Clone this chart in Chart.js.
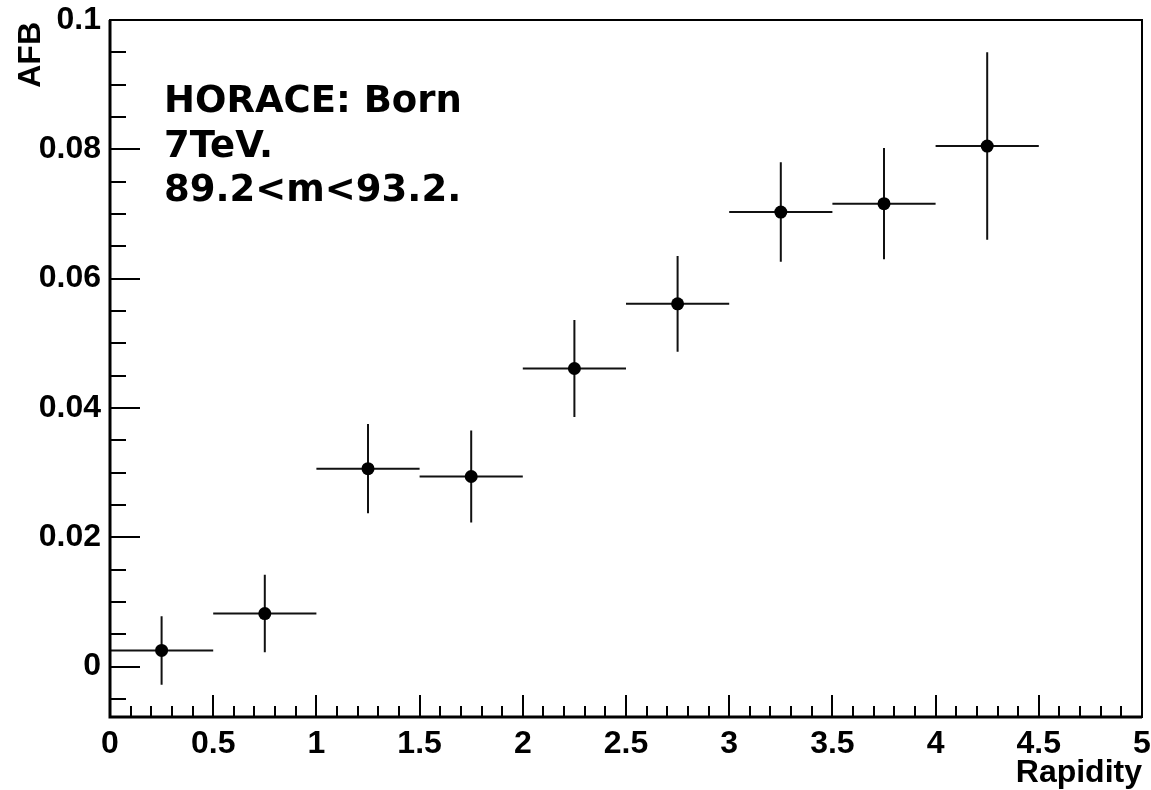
<!DOCTYPE html>
<html>
<head>
<meta charset="utf-8">
<script src="https://cdn.jsdelivr.net/npm/chart.js@4"></script>
<style>
  html, body { margin: 0; padding: 0; background: #fff; }
  #wrap { width: 1151px; height: 790px; }
</style>
</head>
<body>
<div id="wrap"><canvas id="afbChart" width="1151" height="790"></canvas></div>
<script>
// bins in rapidity, AFB value and its error
const binCenters = [0.25, 0.75, 1.25, 1.75, 2.25, 2.75, 3.25, 3.75, 4.25];
const binHalfWidth = [0.25, 0.25, 0.25, 0.25, 0.25, 0.25, 0.25, 0.25, 0.25];
const afb = [0.0025, 0.0082, 0.0306, 0.0294, 0.0461, 0.0561, 0.0703, 0.0716, 0.0805];
const afbErr = [0.0053, 0.0060, 0.0069, 0.0071, 0.0075, 0.0074, 0.0077, 0.0086, 0.0145];

const xTickLabels = [0, 0.5, 1, 1.5, 2, 2.5, 3, 3.5, 4, 4.5, 5];
const yTickLabels = [0, 0.02, 0.04, 0.06, 0.08, 0.1];
const infoLines = ['HORACE: Born', '7TeV.', '89.2<m<93.2.'];

const tickFont = { family: 'Liberation Sans', size: 32, weight: 'bold' };

// error bars drawn under the markers
const errorBars = {
  id: 'errorBars',
  beforeDatasetsDraw(chart) {
    const ctx = chart.ctx;
    const xs = chart.scales.x, ys = chart.scales.y;
    ctx.save();
    ctx.strokeStyle = '#111';
    ctx.lineWidth = 2;
    for (let i = 0; i < afb.length; i++) {
      const yp = ys.getPixelForValue(afb[i]);
      const xp = xs.getPixelForValue(binCenters[i]);
      ctx.beginPath();
      ctx.moveTo(xs.getPixelForValue(binCenters[i] - binHalfWidth[i]), yp);
      ctx.lineTo(xs.getPixelForValue(binCenters[i] + binHalfWidth[i]), yp);
      ctx.moveTo(xp, ys.getPixelForValue(afb[i] + afbErr[i]));
      ctx.lineTo(xp, ys.getPixelForValue(afb[i] - afbErr[i]));
      ctx.stroke();
    }
    ctx.restore();
  }
};

// ROOT style frame, inward ticks, axis titles and the text box
const frame = {
  id: 'frame',
  afterDraw(chart) {
    const ctx = chart.ctx;
    const a = chart.chartArea;
    const xs = chart.scales.x, ys = chart.scales.y;
    ctx.save();
    ctx.strokeStyle = '#000';
    ctx.lineWidth = 2;
    ctx.strokeRect(a.left, a.top, a.right - a.left, a.bottom - a.top);
    ctx.lineWidth = 3;
    ctx.beginPath();
    ctx.moveTo(a.left, a.top);
    ctx.lineTo(a.left, a.bottom);
    ctx.lineTo(a.right, a.bottom);
    ctx.stroke();

    ctx.lineWidth = 2;
    ctx.beginPath();
    for (let k = 0; k <= 50; k++) {
      const v = k * 0.1;
      const px = Math.round(xs.getPixelForValue(v));
      const len = (k % 5 === 0) ? 22 : 11;
      ctx.moveTo(px, a.bottom);
      ctx.lineTo(px, a.bottom - len);
    }
    for (let k = -1; k <= 20; k++) {
      const v = k * 0.005;
      const py = Math.round(ys.getPixelForValue(v));
      const len = (k % 4 === 0) ? 30 : 16;
      ctx.moveTo(a.left, py);
      ctx.lineTo(a.left + len, py);
    }
    ctx.stroke();

    ctx.fillStyle = '#000';
    ctx.font = 'bold 32px "Liberation Sans"';
    ctx.textAlign = 'right';
    ctx.textBaseline = 'alphabetic';
    ctx.fillText('Rapidity', a.right, 782);

    ctx.save();
    ctx.translate(40, a.top + 2);
    ctx.rotate(-Math.PI / 2);
    ctx.textAlign = 'right';
    ctx.fillText('AFB', 0, 0);
    ctx.restore();

    ctx.font = 'bold 37px "DejaVu Sans"';
    ctx.textAlign = 'left';
    infoLines.forEach((t, i) => {
      ctx.fillText(t, 164, 112 + i * 44.5);
    });
    ctx.restore();
  }
};

new Chart(document.getElementById('afbChart'), {
  type: 'scatter',
  data: {
    datasets: [{
      label: 'AFB',
      data: binCenters.map((x, i) => ({ x: x, y: afb[i] })),
      backgroundColor: '#000',
      borderColor: '#000',
      pointRadius: 6.5,
      pointHoverRadius: 6.5,
      pointBorderWidth: 0
    }]
  },
  options: {
    responsive: false,
    animation: false,
    events: [],
    layout: { padding: { top: 20, right: 9, left: 0, bottom: 0 } },
    plugins: { legend: { display: false }, tooltip: { enabled: false } },
    scales: {
      x: {
        type: 'linear',
        min: 0,
        max: 5,
        grid: { display: false, drawTicks: false },
        border: { display: false },
        afterBuildTicks: (s) => { s.ticks = xTickLabels.map(v => ({ value: v })); },
        afterFit: (s) => {
          s.height = 73;
          s.paddingLeft = 0; s.paddingRight = 0;
        },
        ticks: {
          color: '#000',
          font: tickFont,
          padding: 8,
          maxRotation: 0,
          autoSkip: false,
          callback: (v) => String(v)
        }
      },
      y: {
        type: 'linear',
        min: -0.0078,
        max: 0.1,
        grid: { display: false, drawTicks: false },
        border: { display: false },
        afterBuildTicks: (s) => { s.ticks = yTickLabels.map(v => ({ value: v })); },
        afterFit: (s) => {
          s.width = 110;
          s.paddingTop = 0; s.paddingBottom = 0;
        },
        ticks: {
          color: '#000',
          font: tickFont,
          padding: 9,
          autoSkip: false,
          callback: (v) => String(+v.toFixed(3))
        }
      }
    }
  },
  plugins: [errorBars, frame]
});
</script>
</body>
</html>
